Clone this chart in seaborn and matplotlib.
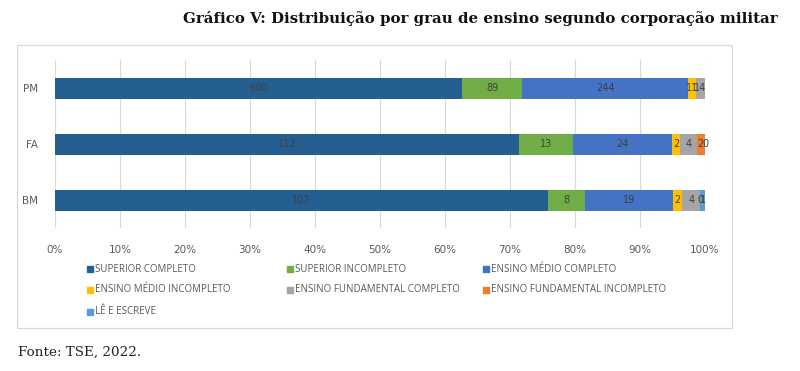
import numpy as np
import pandas as pd
import matplotlib
matplotlib.use("Agg")
import matplotlib.pyplot as plt
import seaborn as sns
from matplotlib.patches import Rectangle

corporacoes = ["PM", "FA", "BM"]
categorias = ["SUPERIOR COMPLETO", "SUPERIOR INCOMPLETO", "ENSINO MÉDIO COMPLETO",
              "ENSINO MÉDIO INCOMPLETO", "ENSINO FUNDAMENTAL COMPLETO",
              "ENSINO FUNDAMENTAL INCOMPLETO", "LÊ E ESCREVE"]
superior_completo = [600, 112, 107]
superior_incompleto = [89, 13, 8]
medio_completo = [244, 24, 19]
medio_incompleto = [11, 2, 2]
fundamental_completo = [14, 4, 4]
fundamental_incompleto = [np.nan, 2, 0]
le_escreve = [np.nan, 0, 1]
cores = ["#255E91", "#70AD47", "#4472C4", "#FFC000", "#A5A5A5", "#ED7D31", "#5B9BD5"]
xticks_labels = ["0%", "10%", "20%", "30%", "40%", "50%", "60%", "70%", "80%", "90%", "100%"]

series = [superior_completo, superior_incompleto, medio_completo, medio_incompleto,
          fundamental_completo, fundamental_incompleto, le_escreve]
vals = np.array(series, dtype=float)  # shape (7, 3)
tot = np.nansum(vals, axis=0)
pct = np.nan_to_num(vals) / tot * 100
cum = np.cumsum(pct, axis=0)

sns.set_theme(style="white")
plt.rcParams['font.family'] = ['DejaVu Sans']

fig = plt.figure(figsize=(8, 3.71), dpi=100)
ax = fig.add_axes([55/800, 1-228/371, 650/800, 168/371])

# border box
fig.patches.append(Rectangle((17/800, 1-328/371), (732-17)/800, (328-45)/371,
                             transform=fig.transFigure, fill=False,
                             edgecolor="#D9D9D9", linewidth=0.9, zorder=0))

for i in range(len(series) - 1, -1, -1):
    df = pd.DataFrame({"corp": corporacoes, "right": cum[i]})
    sns.barplot(data=df, x="right", y="corp", orient="h", color=cores[i],
                width=0.375, saturation=1, ax=ax, zorder=3, edgecolor="none",
                linewidth=0)

for i in range(len(series)):
    for j in range(len(corporacoes)):
        v = vals[i, j]
        if np.isnan(v):
            continue
        left = cum[i, j] - pct[i, j]
        ax.text(left + pct[i, j] / 2, j, f"{int(v)}", ha="center", va="center",
                fontsize=7, color="#404040", zorder=5)

ax.set_xlim(0, 100)
ax.set_ylim(2.5, -0.5)
ax.set_xticks(np.arange(0, 101, 10))
ax.set_xticklabels(xticks_labels, fontsize=7.5, color="#595959")
ax.tick_params(axis="y", labelsize=7.5, labelcolor="#595959", length=0, pad=12)
ax.tick_params(axis="x", length=0, pad=12)
ax.set_xlabel("")
ax.set_ylabel("")
ax.grid(axis="x", color="#D9D9D9", linewidth=0.8, zorder=0)
for s in ax.spines.values():
    s.set_visible(False)
ax.axvline(0, color="#D9D9D9", linewidth=0.8, zorder=1)

# legend
leg_pos = [(87, 269), (287, 269), (483, 269),
           (87, 290), (287, 290), (483, 290),
           (87, 312)]
for (x, y), c, lab in zip(leg_pos, cores, categorias):
    fig.patches.append(Rectangle((x/800, 1-(y+3)/371), 6/800, 6/371,
                                 transform=fig.transFigure, color=c))
    fig.text((x+8)/800, 1-y/371, lab, fontsize=7, color="#595959",
             va="center", ha="left", family=["Open Sans"])

fig.text(778/800, 1-18/371, "Gráfico V: Distribuição por grau de ensino segundo corporação militar",
         ha="right", va="center", fontsize=10.8, fontweight="bold",
         family=["DejaVu Serif"], color="#111111")
fig.text(18/800, 1-352/371, "Fonte: TSE, 2022.", ha="left", va="center",
         fontsize=9.7, family=["DejaVu Serif"], color="#222222")

fig.savefig("out.png", dpi=100)
